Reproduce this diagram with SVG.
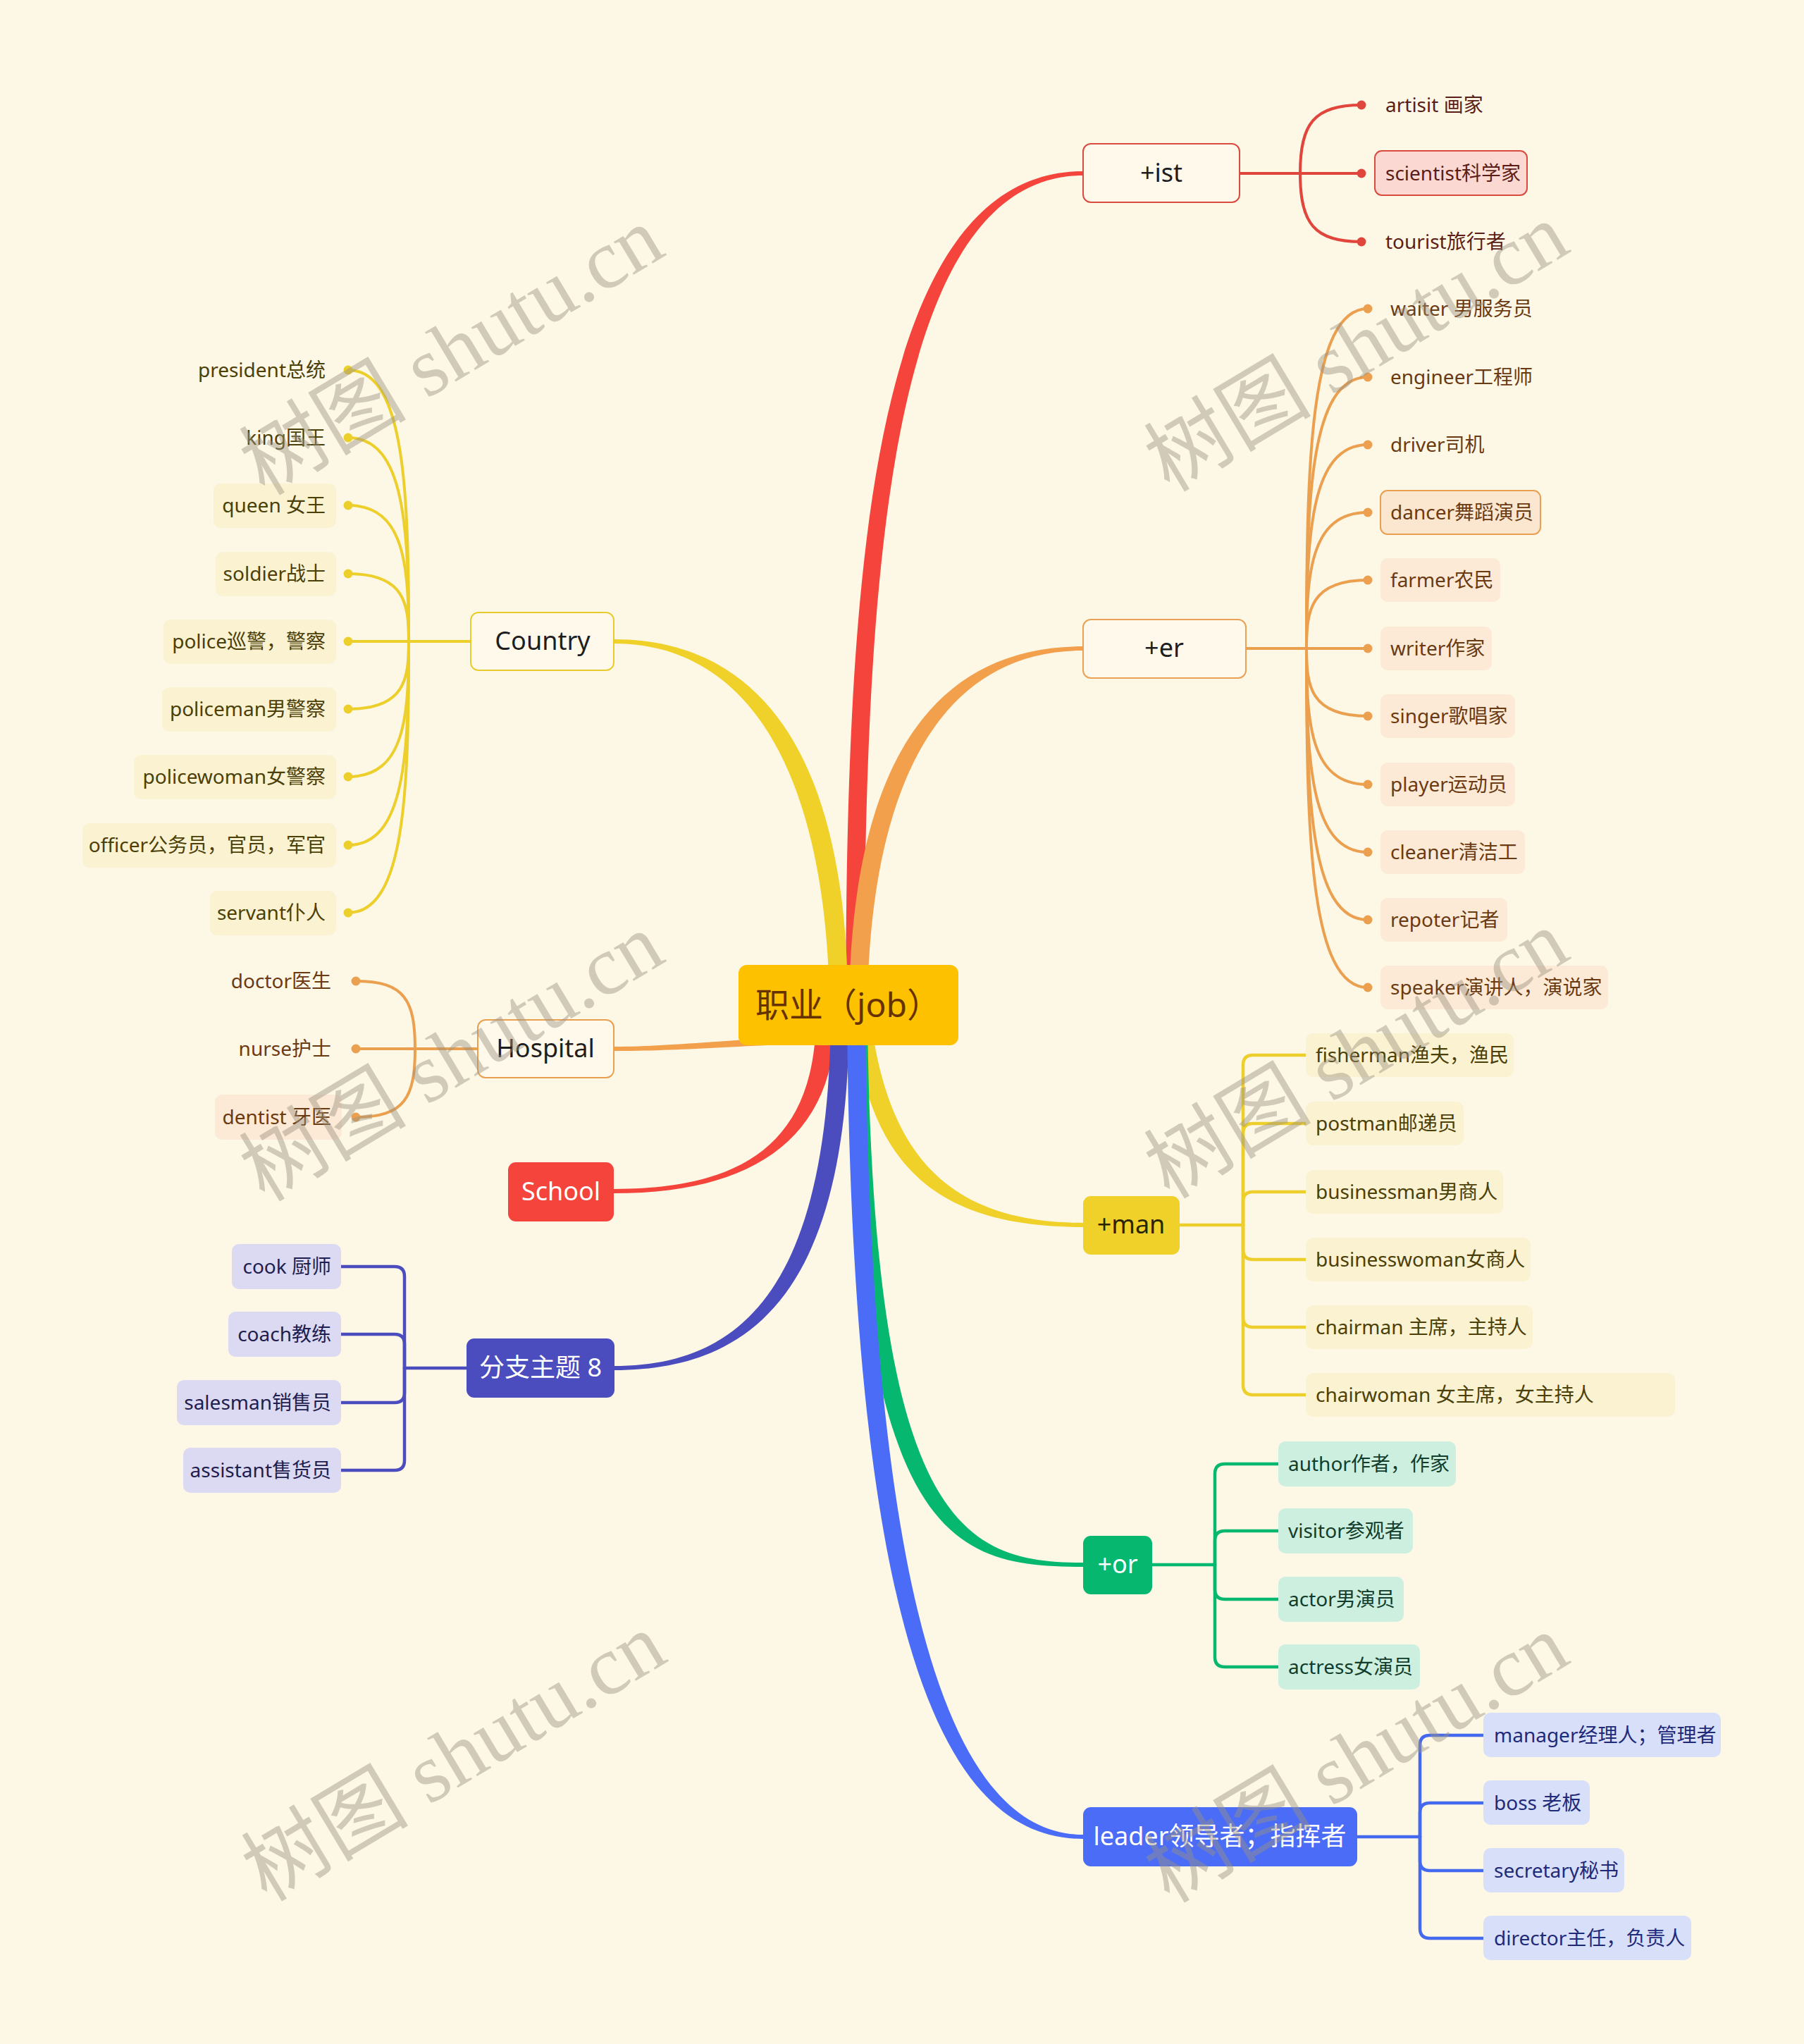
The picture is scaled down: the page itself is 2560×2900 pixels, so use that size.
<svg xmlns="http://www.w3.org/2000/svg" width="2560" height="2900" viewBox="0 0 2560 2900">
<style>
text { font-family: "Noto Sans", "Noto Sans CJK SC", sans-serif; }
.c { font-size: 28px; }
.m { font-size: 36px; text-anchor: middle; }
.e { text-anchor: end; }
.ln { fill: none; stroke-width: 4; stroke-linecap: round; }
.el { fill: none; stroke-width: 4.5; stroke-linecap: round; }
.red { stroke: #E0463C; }
.ora { stroke: #EBA04F; }
.yel { stroke: #EDCF2C; }
.grn { stroke: #06B86F; }
.blu { stroke: #4468EE; }
.ind { stroke: #4B4CBE; }
.tr { fill: #5B1E16; }
.to { fill: #6A3A12; }
.ty { fill: #4A4008; }
.tg { fill: #123D2C; }
.tb { fill: #1F2A7A; }
.ti { fill: #1E1E50; }
.dk { fill: #1E1E1E; }
.wh { fill: #FFFFFF; }
.by { fill: #FBF2D2; }
.bo { fill: #FCEAD6; }
.bg { fill: #CDEFDF; }
.bb { fill: #D8DFF9; }
.bi { fill: #DCD9F2; }
.wm { font-family: "Liberation Serif", "Noto Sans CJK SC", serif; font-size: 119px; fill: #9C9280; fill-opacity: 0.45; text-anchor: middle; }
</style>
<rect width="2560" height="2900" fill="#FDF7E6"/>

<g id="connectors">
  <!-- main tapered branches -->
  <path fill="#F4443B" d="M1200,1420 C1202,850 1228,243 1537,243 L1537,249 C1252,249 1228,860 1226,1420 Z"/>
  <path fill="#EFD12A" d="M1177,1420 C1172,1110 1070,913 871,913 L871,907 C1090,907 1202,1090 1203,1420 Z"/>
  <path fill="#F2A04C" d="M1205,1420 C1209,1140 1290,917 1537,917 L1537,923 C1310,923 1235,1160 1231,1420 Z"/>
  <path fill="#F2A04C" d="M1110,1472 C1000,1478 940,1485 871,1485 L871,1491 C940,1491 1000,1487 1110,1482 Z"/>
  <path fill="#F4443B" d="M1158,1440 C1158,1625 1050,1687 871,1687 L871,1693 C1070,1693 1186,1615 1186,1440 Z"/>
  <path fill="#4B4CBE" d="M1179,1440 C1176,1830 1050,1938 871,1938 L871,1944 C1070,1944 1204,1830 1205,1440 Z"/>
  <path fill="#EFD12A" d="M1235,1440 C1258,1632 1340,1735 1537,1735 L1537,1741 C1320,1741 1232,1648 1209,1440 Z"/>
  <path fill="#06B86F" d="M1231,1440 C1238,2170 1370,2217 1537,2217 L1537,2223 C1350,2223 1212,2190 1205,1440 Z"/>
  <path fill="#4A6CF7" d="M1228,1440 C1235,2340 1370,2603 1537,2603 L1537,2609 C1350,2609 1209,2360 1202,1440 Z"/>

  <!-- +ist children -->
  <g class="ln red">
    <path d="M1759,246 L1932,246"/>
    <path d="M1845,246 C1845,175 1865,149 1932,149"/>
    <path d="M1845,246 C1845,317 1865,343 1932,343"/>
  </g>
  <g fill="#E0463C">
    <circle cx="1932" cy="149" r="6.5"/><circle cx="1932" cy="246" r="6.5"/><circle cx="1932" cy="343" r="6.5"/>
  </g>

  <!-- +er children -->
  <g class="ln ora">
    <path d="M1768,920 L1941,920"/>
    <path d="M1854,920 C1854,655 1859,438 1941,438"/>
    <path d="M1854,920 C1854,708 1859,535 1941,535"/>
    <path d="M1854,920 C1854,761 1859,631 1941,631"/>
    <path d="M1854,920 C1854,814 1859,727 1941,727"/>
    <path d="M1854,920 C1854,867 1859,823 1941,823"/>
    <path d="M1854,920 C1854,973 1859,1016 1941,1016"/>
    <path d="M1854,920 C1854,1026 1859,1113 1941,1113"/>
    <path d="M1854,920 C1854,1079 1859,1209 1941,1209"/>
    <path d="M1854,920 C1854,1132 1859,1305 1941,1305"/>
    <path d="M1854,920 C1854,1185 1859,1401 1941,1401"/>
  </g>
  <g fill="#EBA04F">
    <circle cx="1941" cy="438" r="6.5"/><circle cx="1941" cy="535" r="6.5"/><circle cx="1941" cy="631" r="6.5"/>
    <circle cx="1941" cy="727" r="6.5"/><circle cx="1941" cy="823" r="6.5"/><circle cx="1941" cy="920" r="6.5"/>
    <circle cx="1941" cy="1016" r="6.5"/><circle cx="1941" cy="1113" r="6.5"/><circle cx="1941" cy="1209" r="6.5"/>
    <circle cx="1941" cy="1305" r="6.5"/><circle cx="1941" cy="1401" r="6.5"/>
  </g>

  <!-- Country children -->
  <g class="ln yel">
    <path d="M668,910 L494,910"/>
    <path d="M580,910 C580,698 575,525 494,525"/>
    <path d="M580,910 C580,751 575,621 494,621"/>
    <path d="M580,910 C580,804 575,717 494,717"/>
    <path d="M580,910 C580,857 575,814 494,814"/>
    <path d="M580,910 C580,963 575,1006 494,1006"/>
    <path d="M580,910 C580,1016 575,1102 494,1102"/>
    <path d="M580,910 C580,1069 575,1199 494,1199"/>
    <path d="M580,910 C580,1122 575,1295 494,1295"/>
  </g>
  <g fill="#EDCF2C">
    <circle cx="494" cy="525" r="6.5"/><circle cx="494" cy="621" r="6.5"/><circle cx="494" cy="717" r="6.5"/>
    <circle cx="494" cy="814" r="6.5"/><circle cx="494" cy="910" r="6.5"/><circle cx="494" cy="1006" r="6.5"/>
    <circle cx="494" cy="1102" r="6.5"/><circle cx="494" cy="1199" r="6.5"/><circle cx="494" cy="1295" r="6.5"/>
  </g>

  <!-- Hospital children -->
  <g class="ln ora">
    <path d="M678,1488 L505,1488"/>
    <path d="M589,1488 C589,1420 575,1392 505,1392"/>
    <path d="M589,1488 C589,1556 575,1585 505,1585"/>
  </g>
  <g fill="#EBA04F">
    <circle cx="505" cy="1392" r="6.5"/><circle cx="505" cy="1488" r="6.5"/><circle cx="505" cy="1585" r="6.5"/>
  </g>

  <!-- 分支主题 8 children -->
  <g class="el ind">
    <path d="M662,1941 L574,1941"/>
    <path d="M574,1941 L574,1811 Q574,1797 560,1797 L484,1797"/>
    <path d="M574,1941 L574,1907 Q574,1893 560,1893 L484,1893"/>
    <path d="M574,1941 L574,1976 Q574,1990 560,1990 L484,1990"/>
    <path d="M574,1941 L574,2072 Q574,2086 560,2086 L484,2086"/>
  </g>

  <!-- +man children -->
  <g class="el yel">
    <path d="M1674,1738 L1764,1738"/>
    <path d="M1764,1738 L1764,1511 Q1764,1497 1778,1497 L1853,1497"/>
    <path d="M1764,1738 L1764,1608 Q1764,1594 1778,1594 L1853,1594"/>
    <path d="M1764,1738 L1764,1705 Q1764,1691 1778,1691 L1853,1691"/>
    <path d="M1764,1738 L1764,1773 Q1764,1787 1778,1787 L1853,1787"/>
    <path d="M1764,1738 L1764,1869 Q1764,1883 1778,1883 L1853,1883"/>
    <path d="M1764,1738 L1764,1965 Q1764,1979 1778,1979 L1853,1979"/>
  </g>

  <!-- +or children -->
  <g class="el grn">
    <path d="M1635,2220 L1724,2220"/>
    <path d="M1724,2220 L1724,2091 Q1724,2077 1738,2077 L1814,2077"/>
    <path d="M1724,2220 L1724,2186 Q1724,2172 1738,2172 L1814,2172"/>
    <path d="M1724,2220 L1724,2255 Q1724,2269 1738,2269 L1814,2269"/>
    <path d="M1724,2220 L1724,2351 Q1724,2365 1738,2365 L1814,2365"/>
  </g>

  <!-- leader children -->
  <g class="el blu">
    <path d="M1926,2606 L2015,2606"/>
    <path d="M2015,2606 L2015,2476 Q2015,2462 2029,2462 L2105,2462"/>
    <path d="M2015,2606 L2015,2572 Q2015,2558 2029,2558 L2105,2558"/>
    <path d="M2015,2606 L2015,2640 Q2015,2654 2029,2654 L2105,2654"/>
    <path d="M2015,2606 L2015,2736 Q2015,2750 2029,2750 L2105,2750"/>
  </g>
</g>

<!-- central topic -->
<g id="root">
  <rect x="1048" y="1369" width="312" height="114" rx="12" fill="#FDC100"/>
  <text x="1072" y="1443" font-size="48" fill="#663300">职业（job）</text>
</g>

<!-- main topics -->
<g id="n-ist"><rect x="1537" y="204" width="222" height="83" rx="11" fill="#FFF9EC" stroke="#DA4B3F" stroke-width="2"/><text class="m dk" x="1648" y="258">+ist</text></g>
<g id="n-er"><rect x="1537" y="879" width="231" height="83" rx="11" fill="#FFF9EC" stroke="#E9A155" stroke-width="2"/><text class="m dk" x="1652" y="932">+er</text></g>
<g id="n-country"><rect x="668" y="869" width="203" height="82" rx="11" fill="#FFF9EC" stroke="#E8CC2E" stroke-width="2"/><text class="m dk" x="770" y="922">Country</text></g>
<g id="n-hospital"><rect x="678" y="1447" width="193" height="82" rx="11" fill="#FFF9EC" stroke="#E8A050" stroke-width="2"/><text class="m dk" x="774" y="1500">Hospital</text></g>
<g id="n-school"><rect x="721" y="1649" width="150" height="84" rx="11" fill="#F4443B"/><text class="m wh" x="796" y="1703">School</text></g>
<g id="n-branch8"><rect x="662" y="1899" width="210" height="84" rx="11" fill="#4B4CBE"/><text class="m wh" x="767" y="1953">分支主题 8</text></g>
<g id="n-man"><rect x="1537" y="1697" width="137" height="83" rx="11" fill="#EFD12A"/><text class="m" x="1605" y="1750" fill="#2A2400">+man</text></g>
<g id="n-or"><rect x="1537" y="2179" width="98" height="83" rx="11" fill="#06B86F"/><text class="m wh" x="1586" y="2232">+or</text></g>
<g id="n-leader"><rect x="1537" y="2564" width="389" height="84" rx="11" fill="#4A6CF7"/><text class="m wh" x="1731" y="2618">leader领导者；指挥者</text></g>

<!-- +ist children -->
<g id="ist-1"><text class="c tr" x="1966" y="159">artisit 画家</text></g>
<g id="ist-2"><rect x="1951" y="214" width="216" height="63" rx="10" fill="#FCD8D3" stroke="#DA4B3F" stroke-width="2"/><text class="c tr" x="1966" y="256">scientist科学家</text></g>
<g id="ist-3"><text class="c tr" x="1966" y="353">tourist旅行者</text></g>

<!-- +er children -->
<g id="er-1"><text class="c to" x="1973" y="448">waiter 男服务员</text></g>
<g id="er-2"><text class="c to" x="1973" y="545">engineer工程师</text></g>
<g id="er-3"><text class="c to" x="1973" y="641">driver司机</text></g>
<g id="er-4"><rect x="1959" y="696" width="227" height="62" rx="10" fill="#FBE6D0" stroke="#E8A050" stroke-width="2"/><text class="c to" x="1973" y="737">dancer舞蹈演员</text></g>
<g id="er-5"><rect class="bo" x="1959" y="792" width="170" height="62" rx="10"/><text class="c to" x="1973" y="833">farmer农民</text></g>
<g id="er-6"><rect class="bo" x="1959" y="889" width="158" height="62" rx="10"/><text class="c to" x="1973" y="930">writer作家</text></g>
<g id="er-7"><rect class="bo" x="1959" y="985" width="191" height="62" rx="10"/><text class="c to" x="1973" y="1026">singer歌唱家</text></g>
<g id="er-8"><rect class="bo" x="1959" y="1082" width="191" height="62" rx="10"/><text class="c to" x="1973" y="1123">player运动员</text></g>
<g id="er-9"><rect class="bo" x="1959" y="1178" width="205" height="62" rx="10"/><text class="c to" x="1973" y="1219">cleaner清洁工</text></g>
<g id="er-10"><rect class="bo" x="1959" y="1274" width="180" height="62" rx="10"/><text class="c to" x="1973" y="1315">repoter记者</text></g>
<g id="er-11"><rect class="bo" x="1959" y="1370" width="323" height="62" rx="10"/><text class="c to" x="1973" y="1411">speaker演讲人，演说家</text></g>

<!-- Country children -->
<g id="co-1"><text class="c e ty" x="462" y="535">president总统</text></g>
<g id="co-2"><text class="c e ty" x="462" y="631">king国王</text></g>
<g id="co-3"><rect class="by" x="303" y="686" width="174" height="63" rx="10"/><text class="c e ty" x="462" y="727">queen 女王</text></g>
<g id="co-4"><rect class="by" x="306" y="783" width="171" height="63" rx="10"/><text class="c e ty" x="462" y="824">soldier战士</text></g>
<g id="co-5"><rect class="by" x="232" y="879" width="245" height="63" rx="10"/><text class="c e ty" x="462" y="920">police巡警，警察</text></g>
<g id="co-6"><rect class="by" x="230" y="975" width="247" height="63" rx="10"/><text class="c e ty" x="462" y="1016">policeman男警察</text></g>
<g id="co-7"><rect class="by" x="190" y="1071" width="287" height="63" rx="10"/><text class="c e ty" x="462" y="1112">policewoman女警察</text></g>
<g id="co-8"><rect class="by" x="117" y="1168" width="360" height="63" rx="10"/><text class="c e ty" x="462" y="1209">officer公务员，官员，军官</text></g>
<g id="co-9"><rect class="by" x="298" y="1264" width="179" height="63" rx="10"/><text class="c e ty" x="462" y="1305">servant仆人</text></g>

<!-- Hospital children -->
<g id="ho-1"><text class="c e to" x="470" y="1402">doctor医生</text></g>
<g id="ho-2"><text class="c e to" x="470" y="1498">nurse护士</text></g>
<g id="ho-3"><rect class="bo" x="305" y="1553" width="180" height="64" rx="10"/><text class="c e to" x="470" y="1595">dentist 牙医</text></g>

<!-- 分支主题 8 children -->
<g id="b8-1"><rect class="bi" x="329" y="1765" width="155" height="64" rx="10"/><text class="c e ti" x="470" y="1807">cook 厨师</text></g>
<g id="b8-2"><rect class="bi" x="324" y="1861" width="160" height="64" rx="10"/><text class="c e ti" x="470" y="1903">coach教练</text></g>
<g id="b8-3"><rect class="bi" x="251" y="1958" width="233" height="64" rx="10"/><text class="c e ti" x="470" y="2000">salesman销售员</text></g>
<g id="b8-4"><rect class="bi" x="260" y="2054" width="224" height="64" rx="10"/><text class="c e ti" x="470" y="2096">assistant售货员</text></g>

<!-- +man children -->
<g id="man-1"><rect class="by" x="1853" y="1466" width="295" height="62" rx="10"/><text class="c ty" x="1867" y="1507">fisherman渔夫，渔民</text></g>
<g id="man-2"><rect class="by" x="1853" y="1563" width="224" height="62" rx="10"/><text class="c ty" x="1867" y="1604">postman邮递员</text></g>
<g id="man-3"><rect class="by" x="1853" y="1660" width="280" height="62" rx="10"/><text class="c ty" x="1867" y="1701">businessman男商人</text></g>
<g id="man-4"><rect class="by" x="1853" y="1756" width="319" height="62" rx="10"/><text class="c ty" x="1867" y="1797">businesswoman女商人</text></g>
<g id="man-5"><rect class="by" x="1853" y="1852" width="322" height="62" rx="10"/><text class="c ty" x="1867" y="1893">chairman 主席，主持人</text></g>
<g id="man-6"><rect class="by" x="1853" y="1948" width="524" height="62" rx="10"/><text class="c ty" x="1867" y="1989">chairwoman 女主席，女主持人</text></g>

<!-- +or children -->
<g id="or-1"><rect class="bg" x="1814" y="2045" width="252" height="64" rx="10"/><text class="c tg" x="1828" y="2087">author作者，作家</text></g>
<g id="or-2"><rect class="bg" x="1814" y="2140" width="191" height="64" rx="10"/><text class="c tg" x="1828" y="2182">visitor参观者</text></g>
<g id="or-3"><rect class="bg" x="1814" y="2237" width="178" height="64" rx="10"/><text class="c tg" x="1828" y="2279">actor男演员</text></g>
<g id="or-4"><rect class="bg" x="1814" y="2333" width="201" height="64" rx="10"/><text class="c tg" x="1828" y="2375">actress女演员</text></g>

<!-- leader children -->
<g id="ld-1"><rect class="bb" x="2105" y="2430" width="337" height="63" rx="10"/><text class="c tb" x="2120" y="2472">manager经理人；管理者</text></g>
<g id="ld-2"><rect class="bb" x="2105" y="2526" width="151" height="63" rx="10"/><text class="c tb" x="2120" y="2568">boss 老板</text></g>
<g id="ld-3"><rect class="bb" x="2105" y="2622" width="200" height="63" rx="10"/><text class="c tb" x="2120" y="2664">secretary秘书</text></g>
<g id="ld-4"><rect class="bb" x="2105" y="2718" width="295" height="63" rx="10"/><text class="c tb" x="2120" y="2760">director主任，负责人</text></g>

<!-- watermarks -->
<g id="watermarks">
  <text class="wm" x="642" y="538" transform="rotate(-31 642 500)">树图 shutu.cn</text>
  <text class="wm" x="1926" y="533" transform="rotate(-31 1926 495)">树图 shutu.cn</text>
  <text class="wm" x="642" y="1540" transform="rotate(-31 642 1502)">树图 shutu.cn</text>
  <text class="wm" x="1926" y="1536" transform="rotate(-31 1926 1498)">树图 shutu.cn</text>
  <text class="wm" x="645" y="2533" transform="rotate(-31 645 2495)">树图 shutu.cn</text>
  <text class="wm" x="1926" y="2535" transform="rotate(-31 1926 2497)">树图 shutu.cn</text>
</g>
</svg>
